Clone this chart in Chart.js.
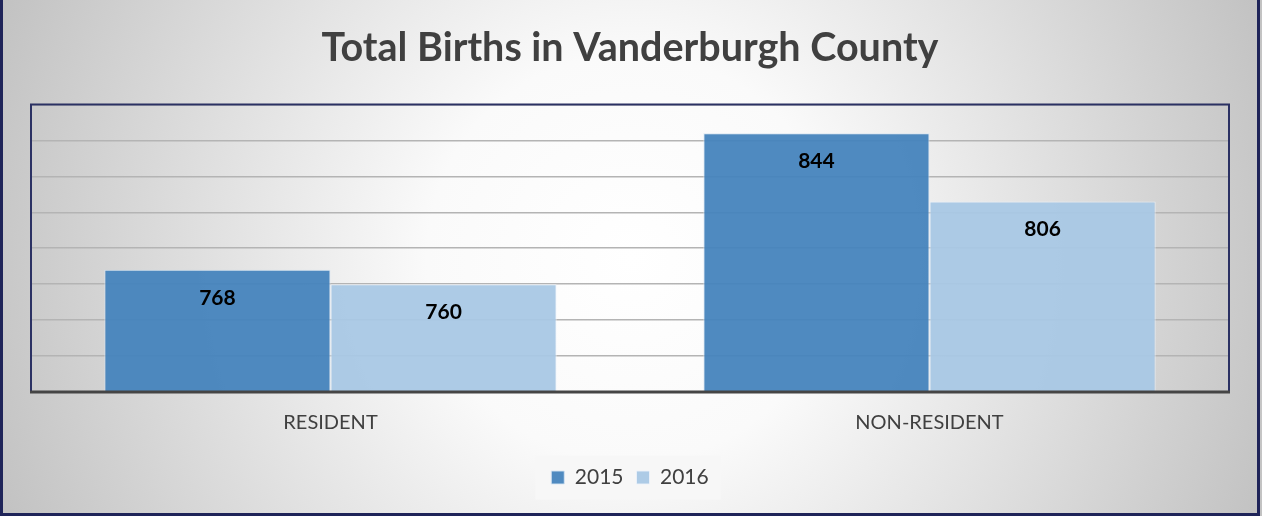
<!DOCTYPE html>
<html>
<head>
<meta charset="utf-8">
<script src="https://cdn.jsdelivr.net/npm/chart.js@4.4.1/dist/chart.umd.min.js"></script>
<style>
  html, body { margin: 0; padding: 0; background: #fff; }
  #wrap { width: 1262px; height: 516px; }
</style>
</head>
<body>
<div id="wrap"><canvas id="births" width="1262" height="516"></canvas></div>
<script>
// data
const categories = ["RESIDENT", "NON-RESIDENT"]
const births2015 = [768, 844]
const births2016 = [760, 806]
const yMin = 700
const yMax = 860
const yStep = 20

const FONT = "Lato, 'Open Sans', sans-serif"

// radial background, frame and plot border
const frame = {
    id: "frame",
    beforeDraw(chart) {
        const ctx = chart.ctx
        const w = chart.width, h = chart.height
        ctx.save()
        let g = ctx.createRadialGradient(631, 258, 0, 631, 258, 680)
        g.addColorStop(0, "#ffffff")
        g.addColorStop(0.3, "#fafafa")
        g.addColorStop(1, "#c2c2c2")
        ctx.fillStyle = g
        ctx.fillRect(0, 0, w, h)

        // legend background
        const lg = chart.legend
        if (lg && lg.legendHitBoxes.length) {
            const boxes = lg.legendHitBoxes
            const x0 = boxes[0].left - 16
            const x1 = boxes[boxes.length - 1].left + boxes[boxes.length - 1].width + 12
            const yc = boxes[0].top + boxes[0].height / 2
            ctx.fillStyle = "#f7f7f7"
            ctx.fillRect(x0, yc - 22, x1 - x0, 44)
        }
        ctx.restore()
    },
    afterDraw(chart) {
        const ctx = chart.ctx
        const a = chart.chartArea
        const w = chart.width, h = chart.height
        ctx.save()
        // plot area border
        ctx.strokeStyle = "#2b3163"
        ctx.lineWidth = 2
        ctx.beginPath()
        ctx.moveTo(a.left, a.bottom)
        ctx.lineTo(a.left, a.top)
        ctx.lineTo(a.right, a.top)
        ctx.lineTo(a.right, a.bottom)
        ctx.stroke()
        // axis line
        ctx.strokeStyle = "#454545"
        ctx.lineWidth = 3
        ctx.beginPath()
        ctx.moveTo(a.left - 1, a.bottom)
        ctx.lineTo(a.right + 1, a.bottom)
        ctx.stroke()
        // outer frame
        ctx.strokeStyle = "#1f2459"
        ctx.lineWidth = 3
        ctx.beginPath()
        ctx.moveTo(1.5, 0)
        ctx.lineTo(1.5, h - 1.5)
        ctx.lineTo(w - 3.5, h - 1.5)
        ctx.lineTo(w - 3.5, 0)
        ctx.stroke()
        ctx.restore()
    },
    afterDatasetsDraw(chart) {
        // value labels inside bars, near the top
        const ctx = chart.ctx
        ctx.save()
        ctx.font = "bold 21px " + FONT
        ctx.fillStyle = "#000000"
        ctx.textAlign = "center"
        ctx.textBaseline = "middle"
        chart.data.datasets.forEach((ds, i) => {
            chart.getDatasetMeta(i).data.forEach((bar, j) => {
                ctx.fillText(ds.data[j], bar.x, bar.y + 28)
            })
        })
        ctx.restore()
    }
}

new Chart(document.getElementById("births"), {
    type: "bar",
    data: {
        labels: categories,
        datasets: [
            {
                label: "2015",
                data: births2015,
                backgroundColor: "rgba(68, 131, 188, 0.94)",
                borderColor: "rgba(214, 228, 242, 0.9)",
                borderWidth: 1
            },
            {
                label: "2016",
                data: births2016,
                backgroundColor: "rgba(168, 200, 228, 0.94)",
                borderColor: "rgba(235, 242, 249, 0.9)",
                borderWidth: 1
            }
        ]
    },
    options: {
        responsive: false,
        animation: false,
        layout: { padding: { left: 31, right: 33, top: 4, bottom: 18 } },
        datasets: { bar: { categoryPercentage: 0.755, barPercentage: 1 } },
        plugins: {
            title: {
                display: true,
                text: "Total Births in Vanderburgh County",
                color: "#404040",
                font: { family: FONT, size: 39.5, weight: "bold" },
                padding: { top: 21, bottom: 32 }
            },
            legend: {
                position: "bottom",
                labels: {
                    color: "#404040",
                    font: { family: FONT, size: 21 },
                    boxWidth: 13,
                    boxHeight: 13,
                    padding: 13
                }
            },
            tooltip: { enabled: false }
        },
        scales: {
            x: {
                grid: { display: false, drawTicks: false },
                border: { display: false },
                ticks: {
                    color: "#404040",
                    font: { family: FONT, size: 20 },
                    padding: 19
                }
            },
            y: {
                min: yMin,
                max: yMax,
                ticks: { display: false, stepSize: yStep },
                grid: { color: "#b4b4b4", lineWidth: 1.5, drawTicks: false },
                border: { display: false }
            }
        }
    },
    plugins: [frame]
})
</script>
</body>
</html>
